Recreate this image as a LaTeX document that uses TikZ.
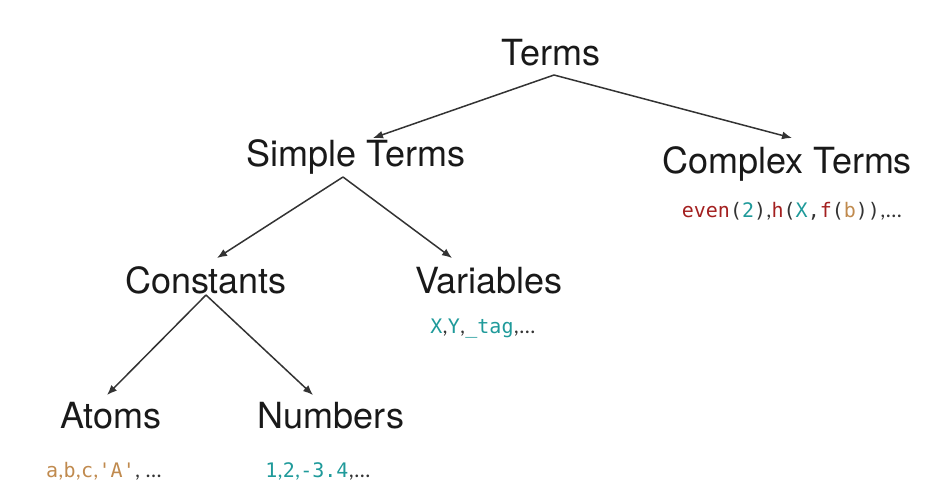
\documentclass[tikz,border=0pt]{standalone}
\usepackage{fontspec}
\setmainfont{TeX Gyre Heros}
\newfontfamily\codefont{DejaVu Sans Mono}
\newfontfamily\smallfont{Carlito}
\usepackage{xcolor}
\usepackage{tikz}
\usetikzlibrary{arrows.meta}

\definecolor{codered}{HTML}{A31F1F}
\definecolor{codeteal}{HTML}{1F9A9A}
\definecolor{codebrown}{HTML}{C08A4E}
\definecolor{codegray}{HTML}{333333}

\newcommand{\cred}[1]{{\color{codered}#1}}
\newcommand{\cteal}[1]{{\color{codeteal}#1}}
\newcommand{\cbrown}[1]{{\color{codebrown}#1}}
\newcommand{\cm}[1]{{\codefont\fontsize{10}{12}\selectfont #1}}

\tikzset{
    term/.style={anchor=base, inner sep=0pt, font=\fontsize{18}{22}\selectfont, text=black!90},
    example/.style={anchor=base, inner sep=0pt, font=\smallfont\fontsize{11}{13}\selectfont, text=codegray},
    branch/.style={draw=black!80, line width=0.75pt, -{Latex[length=5pt,width=4pt]}}
}

\begin{document}
\begin{tikzpicture}[x=0.5pt, y=-0.5pt]
    \useasboundingbox (0,0) rectangle (929,483);

    \node[term] (terms) at (551,65) {Terms};
    \node[term] (simple) at (356,166) {Simple Terms};
    \node[term] (complex) at (787,173) {Complex Terms};
    \node[term] (constants) at (206,293) {Constants};
    \node[term] (variables) at (489,293) {Variables};
    \node[term] (atoms) at (111,428) {Atoms};
    \node[term] (numbers) at (331,428) {Numbers};

    % examples below the leaves
    \node[example] (complexex) at (792,217)
        {\cm{\cred{even}(\cteal{2})},\cm{\cred{h}(\cteal{X},\cred{f}(\cbrown{b}))},...};
    \node[example] (variablesex) at (483,333)
        {\cm{\cteal{X}},\cm{\cteal{Y}},\cm{\cteal{\_tag}},...};
    \node[example] (atomsex) at (104,477)
        {\cbrown{\cm{a},\cm{b},\cm{c},\cm{\textquotesingle A\textquotesingle}}, ...};
    \node[example] (numbersex) at (318,477)
        {\cteal{\cm{1},\cm{2},\cm{-3.4}},...};

    \draw[branch] ([xshift=1.5pt,yshift=-5pt]terms.base) -- ([xshift=8.5pt,yshift=14pt]simple.base);
    \draw[branch] ([xshift=1.5pt,yshift=-5pt]terms.base) -- ([xshift=2.5pt,yshift=17.5pt]complex.base);
    \draw[branch] ([xshift=-6.5pt,yshift=-5.5pt]simple.base) -- ([xshift=5.5pt,yshift=17.5pt]constants.base);
    \draw[branch] ([xshift=-6.5pt,yshift=-5.5pt]simple.base) -- ([xshift=-18.5pt,yshift=17.5pt]variables.base);
    \draw[branch] ([yshift=-1pt]constants.base) -- ([xshift=-2pt,yshift=16.5pt]atoms.base);
    \draw[branch] ([yshift=-1pt]constants.base) -- ([xshift=-9pt,yshift=16.5pt]numbers.base);
\end{tikzpicture}
\end{document}
